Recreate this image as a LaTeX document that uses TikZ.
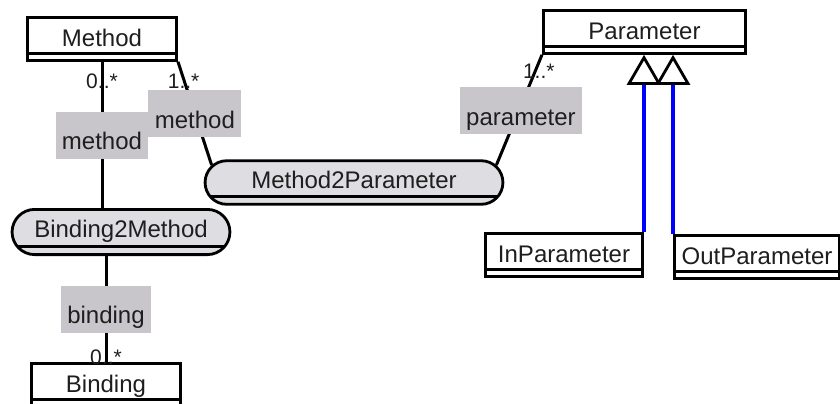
\documentclass[tikz,border=0pt]{standalone}
\usepackage{fontspec}
\setmainfont{Liberation Sans}
\usetikzlibrary{arrows.meta,shapes.misc}
\definecolor{rolegray}{RGB}{200,198,203}
\definecolor{assocgray}{RGB}{221,221,226}
\definecolor{inkgray}{RGB}{30,30,30}
\tikzset{
  umlclass/.style={
    draw,
    line width=1.4pt,
    fill=white,
    text=inkgray,
    font=\fontsize{12}{14}\selectfont,
    inner xsep=2pt,
    inner ysep=1.5pt,
    text height=13.1pt,
    text depth=5.4pt,
    path picture={\draw[line width=1.4pt]
      ([yshift=3.6pt]path picture bounding box.south west) --
      ([yshift=3.6pt]path picture bounding box.south east);}
  },
  assocclass/.style={
    rounded rectangle,
    draw,
    line width=1.4pt,
    fill=assocgray,
    text=inkgray,
    font=\fontsize{12}{14}\selectfont,
    inner ysep=1.5pt,
    text height=12.2pt,
    text depth=6.6pt,
    path picture={\draw[line width=1.4pt]
      ([yshift=4pt]path picture bounding box.south west) --
      ([yshift=4pt]path picture bounding box.south east);}
  },
  role/.style={
    fill=rolegray,
    text=inkgray,
    font=\fontsize{12}{14}\selectfont,
    inner xsep=3.2pt,
    inner ysep=0pt,
    text height=19pt,
    text depth=4.5pt
  },
  mult/.style={
    text=inkgray,
    font=\fontsize{10.5}{12}\selectfont,
    inner sep=0pt,
    anchor=base
  },
  assoc/.style={
    line width=1.5pt
  },
  gen/.style={
    -{Triangle[open,length=15pt,width=17pt,line width=1.4pt,color=black]},
    line width=1.7pt,
    blue
  }
}

\begin{document}
\begin{tikzpicture}[x=0.5pt,y=-0.5pt]
\useasboundingbox (0,0) rectangle (840,403);
\node[umlclass,minimum width=74.6pt] (meth) at (102,38.9) {Method};
\node[umlclass,minimum width=74.6pt] (bind) at (106,384.9) {Binding};
\node[umlclass,minimum width=101.1pt] (param) at (644.5,31.9) {Parameter};
\node[umlclass,minimum width=78.6pt] (inpar) at (564,254.9) {InParameter};
\node[umlclass,minimum width=82.6pt] (outpar) at (757,256.9) {OutParameter};
\node[assocclass,minimum width=115.6pt,minimum height=22.6pt] (b2m) at (121,232) {Binding2Method};
\node[assocclass,minimum width=155.6pt,minimum height=21.1pt] (m2p) at (354,182.5) {Method2Parameter};
\draw[assoc] (meth.south) -- node[mult,pos=0.184] {0..*}
  node[role,pos=0.503] {method} (meth.south |- b2m.north);
\draw[assoc] (bind.north) -- node[mult,at start,yshift=-1.3pt] {0..*}
  node[role,pos=0.5] {binding} (bind.north |- b2m.south);
\draw[assoc] (meth.south east) -- node[mult,pos=0.262,xshift=-1.6pt] {1..*}
  node[role,pos=0.501] {method} (m2p.173);
\draw[assoc] (param.south west) -- node[mult,pos=0.211,xshift=3.2pt] {1..*}
  node[role,pos=0.506,xshift=1pt] {parameter} (m2p.7);
\draw[gen] (inpar.north east) -- (inpar.north east |- param.south);
\draw[gen] (outpar.north west) -- (outpar.north west |- param.south);
\end{tikzpicture}
\end{document}
